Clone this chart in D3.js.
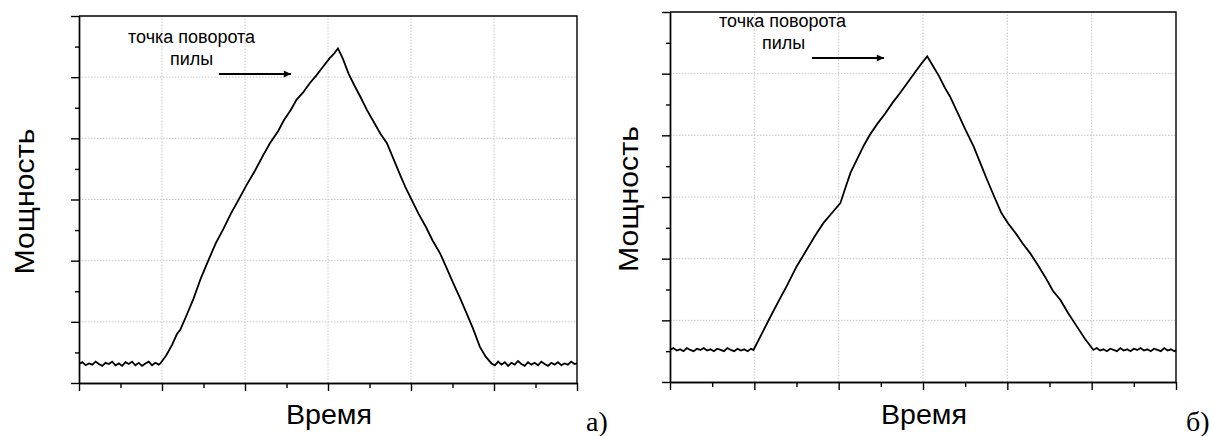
<!DOCTYPE html>
<html>
<head>
<meta charset="utf-8">
<script src="https://cdn.jsdelivr.net/npm/d3@7/dist/d3.min.js"></script>
<style>
  body { margin: 0; background: #fff; }
  .lbl { font-family: Arial, "Liberation Sans", sans-serif; fill: #000; }
  .tag { font-family: "Times New Roman", "Liberation Serif", serif; fill: #000; }
</style>
</head>
<body>
<svg id="fig" width="1212" height="436"></svg>
<script>
// ---- data (arbitrary units: time 0..6, power 0..6) ----
var majorTicks = [0, 1, 2, 3, 4, 5, 6]
, minorTicks = [0.5, 1.5, 2.5, 3.5, 4.5, 5.5]
, xTitle = "Время"
, yTitle = "Мощность"
, noteLine1 = "точка поворота"
, noteLine2 = "пилы";

// panel a) : [time, power]
var seriesA = [
  [0.00,0.31],[0.04,0.34],[0.08,0.29],[0.12,0.32],[0.16,0.30],[0.20,0.35],[0.24,0.31],
  [0.28,0.28],[0.32,0.33],[0.36,0.31],[0.40,0.35],[0.44,0.29],[0.48,0.32],[0.52,0.28],
  [0.56,0.34],[0.60,0.31],[0.64,0.35],[0.68,0.29],[0.72,0.33],[0.76,0.28],[0.80,0.32],
  [0.84,0.35],[0.88,0.29],[0.92,0.33],[0.96,0.30],[0.98,0.32],
  [1.05,0.45],[1.12,0.62],[1.18,0.80],[1.22,0.87],[1.30,1.12],[1.38,1.38],[1.47,1.72],
  [1.56,2.01],[1.65,2.29],[1.74,2.52],[1.83,2.77],[1.92,2.99],[2.02,3.24],[2.12,3.47],
  [2.21,3.70],[2.30,3.92],[2.40,4.12],[2.47,4.30],[2.55,4.46],[2.62,4.63],[2.70,4.75],
  [2.78,4.90],[2.86,5.03],[2.94,5.17],[3.02,5.31],[3.07,5.38],[3.12,5.47],
  [3.18,5.30],[3.25,5.05],[3.32,4.86],[3.39,4.68],[3.47,4.46],[3.55,4.27],[3.63,4.08],
  [3.71,3.92],[3.79,3.66],[3.87,3.40],[3.94,3.18],[4.01,2.99],[4.09,2.77],[4.18,2.55],
  [4.26,2.33],[4.35,2.12],[4.43,1.88],[4.51,1.63],[4.59,1.39],[4.67,1.14],[4.75,0.88],
  [4.83,0.59],[4.90,0.43],[4.97,0.32],
  [5.01,0.29],[5.05,0.35],[5.09,0.30],[5.13,0.34],[5.17,0.28],[5.21,0.33],[5.25,0.30],
  [5.29,0.36],[5.33,0.31],[5.37,0.28],[5.41,0.34],[5.45,0.30],[5.49,0.33],[5.53,0.29],
  [5.57,0.35],[5.61,0.31],[5.65,0.28],[5.69,0.33],[5.73,0.30],[5.77,0.34],[5.81,0.29],
  [5.85,0.32],[5.89,0.30],[5.93,0.35],[5.97,0.31],[6.00,0.32]
];

// panel б) : [time, power]
var seriesB = [
  [0.00,0.52],[0.04,0.55],[0.08,0.51],[0.12,0.53],[0.16,0.50],[0.20,0.55],[0.24,0.52],
  [0.28,0.50],[0.32,0.54],[0.36,0.52],[0.40,0.55],[0.44,0.51],[0.48,0.53],[0.52,0.50],
  [0.56,0.54],[0.60,0.52],[0.64,0.50],[0.68,0.55],[0.72,0.52],[0.76,0.50],[0.80,0.54],
  [0.84,0.51],[0.88,0.53],[0.92,0.50],[0.96,0.54],[0.99,0.52],
  [1.08,0.76],[1.18,1.03],[1.28,1.29],[1.39,1.57],[1.50,1.87],[1.61,2.12],[1.72,2.37],
  [1.82,2.58],[1.92,2.74],[2.02,2.90],[2.08,3.15],[2.14,3.39],[2.22,3.62],[2.30,3.84],
  [2.37,4.01],[2.46,4.19],[2.55,4.35],[2.64,4.53],[2.73,4.69],[2.82,4.86],[2.91,5.03],
  [2.98,5.16],[3.05,5.28],
  [3.12,5.12],[3.19,4.96],[3.26,4.77],[3.32,4.63],[3.41,4.37],[3.50,4.10],[3.60,3.82],
  [3.68,3.55],[3.76,3.28],[3.84,3.02],[3.93,2.74],[4.01,2.57],[4.10,2.41],[4.18,2.25],
  [4.27,2.09],[4.36,1.90],[4.45,1.70],[4.54,1.48],[4.63,1.33],[4.72,1.12],[4.82,0.91],
  [4.92,0.70],[5.02,0.52],
  [5.06,0.55],[5.10,0.51],[5.14,0.53],[5.18,0.50],[5.22,0.54],[5.26,0.52],[5.30,0.50],
  [5.34,0.55],[5.38,0.51],[5.42,0.53],[5.46,0.50],[5.50,0.54],[5.54,0.52],[5.58,0.55],
  [5.62,0.51],[5.66,0.53],[5.70,0.50],[5.74,0.54],[5.78,0.52],[5.82,0.50],[5.86,0.55],
  [5.90,0.51],[5.94,0.53],[5.98,0.50],[6.00,0.52]
];

// ---- layout ----
var panels = [
  { data: seriesA, x0: 79, x1: 577, y0: 383, y1: 16, tag: "а)", tagX: 586, tagY: 431,
    yTitleX: 34, note: { x: 128, y: 43, x2: 170, y2: 65, ax0: 219, ax1: 291, ay: 74 } },
  { data: seriesB, x0: 670, x1: 1176, y0: 382, y1: 12, tag: "б)", tagX: 1186, tagY: 431,
    yTitleX: 638, note: { x: 719, y: 27, x2: 762, y2: 49, ax0: 812, ax1: 884, ay: 58 } }
];

var svg = d3.select("#fig");

svg.append("defs").append("marker")
  .attr("id", "arrowhead")
  .attr("viewBox", "0 0 10 10")
  .attr("refX", 10).attr("refY", 5)
  .attr("markerWidth", 5).attr("markerHeight", 3.6)
  .attr("markerUnits", "strokeWidth")
  .attr("orient", "auto")
  .append("path").attr("d", "M0,0L10,5L0,10Z").attr("fill", "#000");

panels.forEach(function(p) {
  var x = d3.scaleLinear().domain([0, 6]).range([p.x0, p.x1])
  , y = d3.scaleLinear().domain([0, 6]).range([p.y0, p.y1])
  , g = svg.append("g")
  , inner = majorTicks.slice(1, -1);

  // dotted grid
  g.selectAll("line.gx").data(inner).enter().append("line")
    .attr("x1", function(d) { return x(d); }).attr("x2", function(d) { return x(d); })
    .attr("y1", p.y0).attr("y2", p.y1)
    .attr("stroke", "#c8c8c8").attr("stroke-width", 1).attr("stroke-dasharray", "1.5,1.5");
  g.selectAll("line.gy").data(inner).enter().append("line")
    .attr("y1", function(d) { return y(d); }).attr("y2", function(d) { return y(d); })
    .attr("x1", p.x0).attr("x2", p.x1)
    .attr("stroke", "#c8c8c8").attr("stroke-width", 1).attr("stroke-dasharray", "1.5,1.5");

  // axes: major + minor ticks, no labels
  var fmt = function() { return ""; };
  g.append("g").attr("transform", "translate(0," + p.y0 + ")")
    .call(d3.axisBottom(x).tickValues(majorTicks).tickSize(8).tickSizeOuter(0).tickFormat(fmt));
  g.append("g").attr("transform", "translate(0," + p.y0 + ")")
    .call(d3.axisBottom(x).tickValues(minorTicks).tickSize(5).tickSizeOuter(0).tickFormat(fmt));
  g.append("g").attr("transform", "translate(" + p.x0 + ",0)")
    .call(d3.axisLeft(y).tickValues(majorTicks).tickSize(8).tickSizeOuter(0).tickFormat(fmt));
  g.append("g").attr("transform", "translate(" + p.x0 + ",0)")
    .call(d3.axisLeft(y).tickValues(minorTicks).tickSize(4).tickSizeOuter(0).tickFormat(fmt));
  g.selectAll(".domain, .tick line").attr("stroke", "#000").attr("stroke-width", 1.4);

  // frame top + right
  g.append("path")
    .attr("d", "M" + p.x0 + "," + p.y1 + "H" + p.x1 + "V" + p.y0)
    .attr("fill", "none").attr("stroke", "#000").attr("stroke-width", 1.4);

  // signal
  g.append("path").datum(p.data)
    .attr("d", d3.line().x(function(d) { return x(d[0]); }).y(function(d) { return y(d[1]); }))
    .attr("fill", "none").attr("stroke", "#000").attr("stroke-width", 1.8)
    .attr("stroke-linejoin", "miter");

  // axis titles
  g.append("text").attr("class", "lbl")
    .attr("x", (p.x0 + p.x1) / 2 + 1).attr("y", 424)
    .attr("text-anchor", "middle").attr("font-size", 27)
    .attr("textLength", 86).attr("lengthAdjust", "spacingAndGlyphs")
    .text(xTitle);
  g.append("text").attr("class", "lbl")
    .attr("transform", "translate(" + p.yTitleX + "," + ((p.y0 + p.y1) / 2 + 2) + ") rotate(-90)")
    .attr("text-anchor", "middle").attr("font-size", 27)
    .attr("textLength", 146).attr("lengthAdjust", "spacingAndGlyphs")
    .text(yTitle);

  // panel tag
  g.append("text").attr("class", "tag")
    .attr("x", p.tagX).attr("y", p.tagY).attr("font-size", 28)
    .text(p.tag);

  // annotation
  g.append("text").attr("class", "lbl").attr("x", p.note.x).attr("y", p.note.y)
    .attr("font-size", 18).text(noteLine1);
  g.append("text").attr("class", "lbl").attr("x", p.note.x2).attr("y", p.note.y2)
    .attr("font-size", 18).text(noteLine2);
  g.append("line")
    .attr("x1", p.note.ax0).attr("x2", p.note.ax1)
    .attr("y1", p.note.ay).attr("y2", p.note.ay)
    .attr("stroke", "#000").attr("stroke-width", 2)
    .attr("marker-end", "url(#arrowhead)");
});
</script>
</body>
</html>
